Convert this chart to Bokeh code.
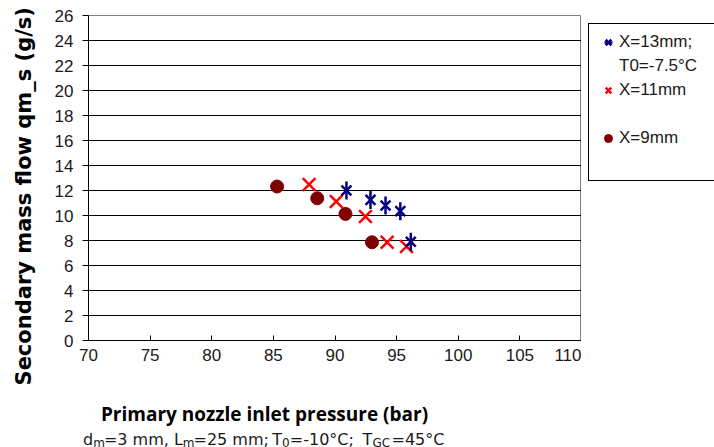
import math
from bokeh.plotting import figure
from bokeh.layouts import column, row
from bokeh.models import Range1d, FixedTicker, Legend, LegendItem
from bokeh.core.properties import value
from bokeh.embed import file_html
from bokeh.resources import INLINE

# Data
x13 = [90.93, 92.88, 94.1, 95.3, 96.15]
y13 = [12.0, 11.25, 10.8, 10.35, 7.9]
x11 = [87.9, 90.1, 92.47, 94.23, 95.8]
y11 = [12.48, 11.12, 9.92, 7.86, 7.52]
x9 = [85.3, 88.56, 90.85, 93.0]
y9 = [12.32, 11.38, 10.13, 7.86]

x_ticks = [70, 75, 80, 85, 90, 95, 100, 105, 110]
y_ticks = list(range(0, 27, 2))

y_title = "Secondary mass flow qm_s (g/s)"
x_title = "Primary nozzle inlet pressure (bar)"
# subtitle pieces: (text, is_subscript) and their left edges in the picture
sub_pieces = [("d", False), ("m", True), ("=3 mm,", False), ("L", False),
              ("m", True), ("=25 mm;", False), ("T", False), ("0", True),
              ("=-10°C;", False), ("T", False), ("GC", True), ("=45°C", False)]
sub_x = [82.5, 92.7, 103.4, 173.4, 182.3, 193.0, 271.7, 281.6, 289.3,
         362.0, 372.0, 391.0]
leg_labels = ["X=13mm;", "T0=-7.5°C", "X=11mm", " ", "X=9mm", " "]

NAVY = "#000080"
RED = "#ff0000"
DRED = "#800000"
TXT = "#1a1a1a"
MAIN_W, MAIN_H = 581, 385

# ---------- main chart ----------
p = figure(width=MAIN_W, height=MAIN_H, output_backend="svg", toolbar_location=None,
           x_range=Range1d(70, 110), y_range=Range1d(0, 26),
           min_border_left=88, min_border_right=0, min_border_top=15,
           min_border_bottom=MAIN_H - 340)
p.background_fill_color = "white"
p.border_fill_color = "white"
p.outline_line_color = "#808080"
p.outline_line_width = 1

p.xgrid.visible = False
p.ygrid.ticker = FixedTicker(ticks=y_ticks[:-1])
p.ygrid.grid_line_color = "#000000"
p.ygrid.grid_line_width = 1

p.xaxis.ticker = FixedTicker(ticks=x_ticks)
p.yaxis.ticker = FixedTicker(ticks=y_ticks)
for ax in (p.xaxis, p.yaxis):
    ax.axis_line_color = "#000000"
    ax.major_tick_line_color = "#000000"
    ax.minor_tick_line_color = None
    ax.major_label_text_font = "Liberation Sans"
    ax.major_label_text_font_size = "17px"
    ax.major_label_text_color = TXT
p.xaxis.major_tick_in = 5
p.xaxis.major_tick_out = 0
p.xaxis.major_label_standoff = 8
p.yaxis.major_tick_in = 0
p.yaxis.major_tick_out = 6
p.yaxis.major_label_standoff = 9

p.yaxis.axis_label = y_title + "     "
p.yaxis.axis_label_text_font = "DejaVu Sans"
p.yaxis.axis_label_text_font_style = "bold"
p.yaxis.axis_label_text_font_size = "21px"
p.yaxis.axis_label_text_color = "#000000"
p.yaxis.axis_label_standoff = 16

p.scatter(x9, y9, marker="circle", size=13, fill_color=DRED,
          line_color=DRED, line_width=1)
p.scatter(x11, y11, marker="x", size=18, line_color=RED, line_width=2.5)
p.scatter(x13, y13, marker="x", size=14, line_color=NAVY, line_width=2.5)
p.scatter(x13, y13, marker="dash", size=18, angle=math.pi / 2,
          line_color=NAVY, line_width=2.5)

# ---------- caption strip (x title + conditions) ----------
pc = figure(width=MAIN_W, height=447 - MAIN_H, output_backend="svg",
            toolbar_location=None,
            x_range=Range1d(0, MAIN_W), y_range=Range1d(447, MAIN_H),
            x_axis_location=None, y_axis_location=None, min_border=0)
pc.frame_align = False
pc.outline_line_color = None
pc.grid.visible = False
pc.text(x=[264], y=[413], text=[x_title], text_align="center",
        text_baseline="alphabetic", text_font=value("Open Sans"),
        text_font_style="bold", text_font_size="19px", text_color="#000000")
main_t = [t for (t, s) in sub_pieces if not s]
main_x = [x for (t, s), x in zip(sub_pieces, sub_x) if not s]
subs_t = [t for (t, s) in sub_pieces if s]
subs_x = [x for (t, s), x in zip(sub_pieces, sub_x) if s]
pc.text(x=main_x, y=[439] * len(main_x), text=main_t, text_align="left",
        text_baseline="alphabetic", text_font=value("DejaVu Sans"),
        text_font_size="16px", text_color=TXT)
pc.text(x=subs_x, y=[442] * len(subs_x), text=subs_t, text_align="left",
        text_baseline="alphabetic", text_font=value("DejaVu Sans"),
        text_font_size="12px", text_color=TXT)

# ---------- legend strip ----------
pl = figure(width=714 - MAIN_W, height=447, output_backend="svg",
            toolbar_location=None, x_range=Range1d(0, 1), y_range=Range1d(0, 1),
            x_axis_location=None, y_axis_location=None,
            min_border_left=0, min_border_right=0, min_border_bottom=0,
            min_border_top=16)
pl.frame_align = False
pl.outline_line_color = None
pl.grid.visible = False
# legend keys styled like the chart's markers (their points fall outside this strip's ranges)
k13a = pl.scatter(x13, y13, marker="x", line_color=NAVY, line_width=2.5)
k13b = pl.scatter(x13, y13, marker="dash", angle=math.pi / 2,
                  line_color=NAVY, line_width=2.5)
k11 = pl.scatter(x11, y11, marker="x", line_color=RED, line_width=2.5)
k9 = pl.scatter(x9, y9, marker="circle", fill_color=DRED, line_color=DRED)
kb = pl.scatter(x9, y9, marker="circle", fill_alpha=0, line_alpha=0)
keys = [[k13a, k13b], [kb], [k11], [kb], [k9], [kb]]

legend = Legend(items=[LegendItem(label=lab, renderers=rs)
                       for lab, rs in zip(leg_labels, keys)],
                location="top_left")
legend.border_line_color = "#000000"
legend.border_line_width = 1
legend.border_line_alpha = 1
legend.background_fill_color = "white"
legend.background_fill_alpha = 1
legend.padding = 8
legend.spacing = 4
legend.margin = 7
legend.glyph_width = 22
legend.glyph_height = 20
legend.label_standoff = 0
legend.label_width = 110
legend.label_text_font = "Liberation Sans"
legend.label_text_font_size = "17px"
legend.label_text_color = TXT
pl.add_layout(legend, "center")

layout = row(column(p, pc, spacing=0), pl, spacing=0)
open("out.html", "w").write(file_html(layout, INLINE))
